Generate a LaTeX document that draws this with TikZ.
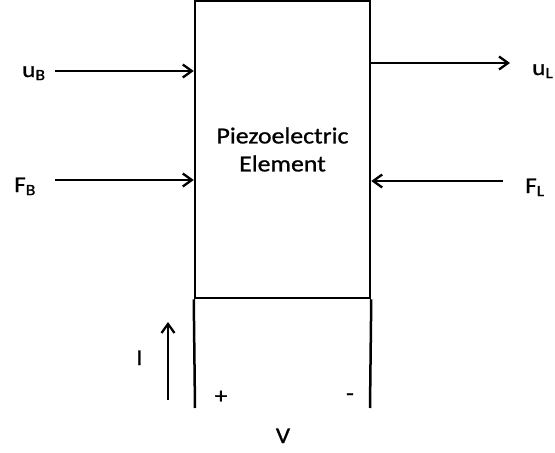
\documentclass[tikz,border=0pt]{standalone}
\usepackage{fontspec}
\setmainfont{Carlito}[FakeStretch=1.12, FakeBold=0.9]
\usetikzlibrary{arrows.meta}
\begin{document}
\begin{tikzpicture}[x=1pt,y=1pt,
  every node/.style={font=\fontsize{22.5}{27}\selectfont, inner sep=0pt},
  arr/.style={line width=2.3pt, -{Straight Barb[length=9pt,width=13pt,line width=2.3pt]}},
  wire/.style={line width=2.5pt},
  lbl/.style={anchor=base west}]
\useasboundingbox (0,0) rectangle (555,-453);
\node[draw, line width=2.5pt, minimum width=175pt, minimum height=297pt, align=center,
      font=\fontsize{23}{28}\selectfont] (box) at (282.5,-149.5) {Piezoelectric\\Element};
% electrode leads
\coordinate (pl) at (195,-408);
\coordinate (pr) at (370,-408);
\draw[wire] (box.south west) -- (pl);
\draw[wire] (box.south east) -- (pr);
% labels
\node[lbl] (uB) at (22,-77) {u\textsubscript{B}};
\node[lbl] (FB) at (14,-192) {F\textsubscript{B}};
\node[lbl] (uL) at (532,-75) {u\textsubscript{L}};
\node[lbl] (FL) at (525,-193) {F\textsubscript{L}};
\node[lbl] (I) at (136,-365) {I};
\node (plus) at (221,-397) {+};
\node (minus) at (350,-397) {-};
\node[anchor=base] (V) at (283,-443) {V};
% arrows
\coordinate (uBs) at (55,-71);
\coordinate (FBs) at (55,-180);
\coordinate (uLe) at (510,-63);
\coordinate (FLs) at (503,-181);
\coordinate (Is) at (168,-400);
\coordinate (Ie) at (168,-322);
\draw[arr] (uBs) -- (uBs -| box.west);
\draw[arr] (FBs) -- (FBs -| box.west);
\draw[arr] (uLe -| box.east) -- (uLe);
\draw[arr] (FLs) -- (FLs -| box.east);
\draw[arr] (Is) -- (Ie);
\end{tikzpicture}
\end{document}
